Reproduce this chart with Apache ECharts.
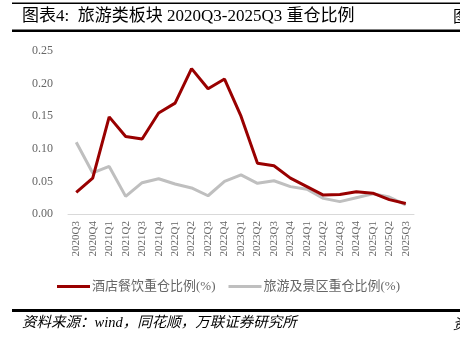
<!DOCTYPE html>
<html>
<head>
<meta charset="utf-8">
<script src="https://cdn.jsdelivr.net/npm/echarts@6/dist/echarts.min.js"></script>
<style>
html,body{margin:0;padding:0;background:#fff;}
#c{width:460px;height:343px;}
</style>
</head>
<body>
<div id="c"></div>
<script>
var categories = ["2020Q3","2020Q4","2021Q1","2021Q2","2021Q3","2021Q4","2022Q1","2022Q2","2022Q3","2022Q4","2023Q1","2023Q2","2023Q3","2023Q4","2024Q1","2024Q2","2024Q3","2024Q4","2025Q1","2025Q2","2025Q3"];
var hotelValues = [0.033,0.055,0.149,0.119,0.115,0.155,0.170,0.223,0.192,0.207,0.150,0.078,0.074,0.055,0.042,0.029,0.030,0.034,0.032,0.022,0.016];
var tourismValues = [0.110,0.063,0.073,0.027,0.048,0.054,0.046,0.040,0.028,0.050,0.060,0.047,0.051,0.042,0.038,0.024,0.019,0.025,0.031,0.026,0.014];
var seriesNames = ["酒店餐饮重仓比例(%)","旅游及景区重仓比例(%)"];
var titleText = "图表4:  旅游类板块 2020Q3-2025Q3 重仓比例";
var sourceText = "资料来源：wind，同花顺，万联证券研究所";

var serif = '"Liberation Serif","DejaVu Serif","Noto Sans CJK SC",serif';
var chart = echarts.init(document.getElementById('c'), null, {renderer:'canvas'});
chart.setOption({
  backgroundColor:'#fff',
  animation:false,
  title:{
    text:titleText, left:17, top:3,
    textStyle:{fontFamily:serif, fontSize:17, fontWeight:'normal', color:'#000'}
  },
  grid:{left:68, right:46, top:51, bottom:129, containLabel:false},
  legend:{
    left:57, top:280, padding:0, icon:'rect', itemWidth:33, itemHeight:3, itemGap:13,
    textStyle:{fontFamily:serif, fontSize:13, color:'#666', padding:[0,0,0,-3]},
    data:seriesNames
  },
  xAxis:{
    type:'category', data:categories, boundaryGap:true,
    axisLine:{lineStyle:{color:'#d9d9d9', width:1}},
    axisTick:{show:false},
    axisLabel:{rotate:90, interval:0, fontFamily:serif, fontSize:11, color:'#666', margin:7}
  },
  yAxis:{
    type:'value', min:0, max:0.25, interval:0.05,
    axisLine:{show:false}, axisTick:{show:false}, splitLine:{show:false},
    axisLabel:{fontFamily:serif, fontSize:12, color:'#666', margin:15,
      formatter:function(v){return v.toFixed(2);}}
  },
  series:[
    {name:seriesNames[0], type:'line', data:hotelValues, symbol:'none',
     lineStyle:{color:'#990000', width:3}, itemStyle:{color:'#990000'}, z:3},
    {name:seriesNames[1], type:'line', data:tourismValues, symbol:'none',
     lineStyle:{color:'#bfbfbf', width:3}, itemStyle:{color:'#bfbfbf'}, z:2}
  ],
  graphic:[
    {type:'rect', shape:{x:12, y:2.5, width:448, height:1.5}, style:{fill:'#000'}},
    {type:'rect', shape:{x:12, y:29.5, width:448, height:2.5}, style:{fill:'#000'}},
    {type:'rect', shape:{x:12, y:309, width:448, height:3}, style:{fill:'#000'}},
    {type:'text', left:453, top:8, style:{text:'图', font:'16px "Noto Sans CJK SC"', fill:'#000'}},
    {type:'text', left:22, top:316, style:{text:sourceText, font:'italic 14.5px "Liberation Serif","Noto Sans CJK SC",serif', fill:'#000'}},
    {type:'text', left:453, top:316, style:{text:'资', font:'italic 14.5px "Noto Sans CJK SC"', fill:'#000'}}
  ]
});
</script>
</body>
</html>
